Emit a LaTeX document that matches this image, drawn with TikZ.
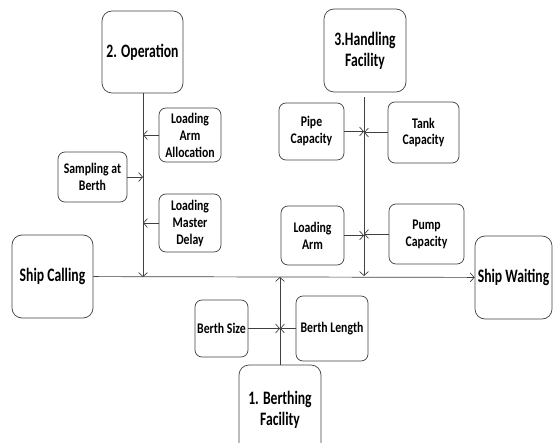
\documentclass[tikz,border=0pt]{standalone}
\usepackage{fontspec}
\setmainfont[FakeStretch=0.8]{Carlito}
\newfontfamily\narrowfont[FakeStretch=0.72]{Carlito}
\usetikzlibrary{arrows.meta,positioning}

\begin{document}
\begin{tikzpicture}[
    x=1pt, y=-1pt,
    >={Straight Barb[length=4pt,width=9pt]},
    factor/.style={
		rectangle,
		rounded corners=7pt,
		draw=black!75,
		line width=0.7pt,
		align=center,
		inner sep=1pt,
		font=\bfseries\fontsize{14.7}{17}\selectfont
	},
	group/.style={
		factor,
		rounded corners=10pt,
		font=\narrowfont\bfseries\fontsize{19}{21}\selectfont
	},
	link/.style={
		draw=black!75,
		line width=0.7pt
	}
  ]
  \useasboundingbox (0,0) rectangle (553,443);
  \clip (0,0) rectangle (553,443);

  % the main blocks
  \node [group, minimum width=81pt, minimum height=82pt] (operation) at (142.5,52) {2. Operation};
  \node [group, minimum width=82pt, minimum height=83pt] (handling) at (365,50.5) {3.Handling\\Facility};
  \node [group, minimum width=81pt, minimum height=83pt] (calling) at (52.5,276.5) {Ship Calling};
  \node [group, minimum width=77pt, minimum height=83pt] (waiting) at (513.5,277.5) {Ship Waiting};
  \node [group, minimum width=82pt, minimum height=90pt] (berthing) at (280,410) {1. Berthing\\Facility};

  % the factors
  \node [factor, minimum width=62pt, minimum height=54pt] (armalloc) at (190,135) {Loading\\Arm\\Allocation};
  \node [factor, minimum width=69pt, minimum height=50pt] (sampling) at (92.5,177) {Sampling at\\Berth};
  \node [factor, minimum width=62pt, minimum height=58pt] (master) at (190,223) {Loading\\Master\\Delay};
  \node [factor, minimum width=65pt, minimum height=57pt] (pipe) at (311.5,131.5) {Pipe\\Capacity};
  \node [factor, minimum width=71pt, minimum height=61pt] (tank) at (423.5,132.5) {Tank\\Capacity};
  \node [factor, minimum width=63pt, minimum height=59pt] (arm) at (312.5,235.5) {Loading\\Arm};
  \node [factor, minimum width=75pt, minimum height=60pt] (pump) at (426.5,234) {Pump\\Capacity};
  \node [factor, minimum width=53pt, minimum height=57pt] (size) at (221.5,328.5) {Berth Size};
  \node [factor, minimum width=72pt, minimum height=65pt] (length) at (332,328.5) {Berth Length};

  % joints on the main line
  \coordinate (opjoin) at (143,277);
  \coordinate (hfjoin) at (364,276);
  \coordinate (bfjoin) at (280,277);

  \draw [link,->] (calling) -- (waiting);
  \draw [link,->] (operation.south -| opjoin) -- (opjoin);
  \draw [link,->] ([yshift=-5pt]handling.south -| hfjoin) -- (hfjoin);
  \draw [link,->] (berthing.north -| bfjoin) -- (bfjoin);

  \draw [link,->] (armalloc.west) -- (armalloc.west -| opjoin);
  \draw [link,->] (sampling.east) -- (sampling.east -| opjoin);
  \draw [link,->] (master.west) -- (master.west -| opjoin);
  \draw [link,->] (pipe.east) -- (pipe.east -| hfjoin);
  \draw [link,->] (tank.west) -- (tank.west -| hfjoin);
  \draw [link,->] (arm.east) -- (arm.east -| hfjoin);
  \draw [link,->] (pump.west) -- (pump.west -| hfjoin);
  \draw [link,->] (size.east) -- (size.east -| bfjoin);
  \draw [link,->] (length.west) -- (length.west -| bfjoin);

\end{tikzpicture}
\end{document}
